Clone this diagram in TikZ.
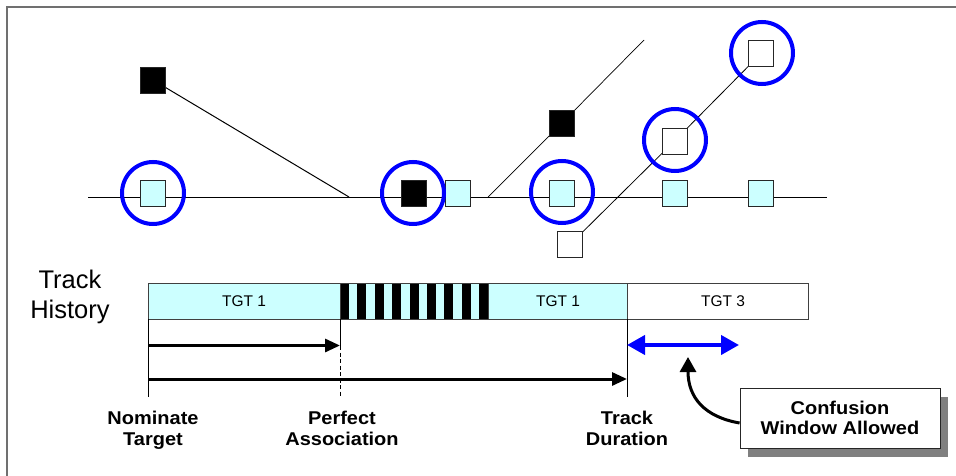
\documentclass[tikz,border=0pt]{standalone}
\usepackage{fontspec}
\setmainfont{Liberation Sans}
\newfontfamily\lblfont[FakeStretch=1.08]{Liberation Sans}
\usetikzlibrary{arrows.meta,shadows}
\definecolor{lcyan}{HTML}{CCFFFF}
\definecolor{framegray}{HTML}{707070}
\pgfdeclarelayer{bg}
\pgfsetlayers{bg,main}
\begin{document}
\begin{tikzpicture}[x=1pt,y=-1pt,
  sq/.style={rectangle, draw=black!85, line width=0.8pt, minimum width=25pt, minimum height=26pt, inner sep=0pt},
  cy/.style={sq, fill=lcyan},
  bk/.style={sq, fill=black},
  wh/.style={sq, fill=white},
  ring/.style={circle, draw=blue, line width=4pt, minimum size=62pt, inner sep=0pt},
  trackline/.style={line width=1pt, black},
  segline/.style={draw=black!75, line width=0.8pt},
  segtext/.style={anchor=base, inner sep=0pt, font=\fontsize{15.5}{18}\selectfont},
  lbl/.style={align=center, inner sep=0pt, font=\lblfont\bfseries\fontsize{18.5}{20.5}\selectfont},
  tickline/.style={line width=0.8pt, black},
  bararrow/.style={line width=3pt, -{Triangle[length=15pt,width=13pt]}},
]
\useasboundingbox (0,0) rectangle (956,476);
\draw[framegray, line width=1.5pt] (7,476) -- (7,7) -- (956,7);

% squares
\node[cy] (c1) at (153,193.5) {};
\node[bk] (b2) at (413.5,193.5) {};
\node[cy] (c2) at (457.5,193.5) {};
\node[cy] (c3) at (561.5,193.5) {};
\node[cy] (c4) at (674.5,193.5) {};
\node[cy] (c5) at (761,193.5) {};
\node[bk] (b1) at (153,80) {};
\node[bk] (b3) at (561.5,123.5) {};
\node[wh] (w1) at (570,244.5) {};
\node[wh] (w2) at (674.5,141) {};
\node[wh] (w3) at (761,53.5) {};

\coordinate (lstart) at (88,197);
\coordinate (lend) at (827,197);
\coordinate (j1) at (349,197);
\coordinate (j2) at (488,197);
\coordinate (j2end) at (644,40);

\begin{pgfonlayer}{bg}
\draw[trackline] (lstart) -- (lend);
\draw[trackline] (b1.center) -- (j1);
\draw[trackline, line width=0.7pt] (j2) -- (b3.center) -- (j2end);
\draw[trackline, line width=0.8pt] (w1.center) -- (w2.center) -- (w3.center);
\end{pgfonlayer}

% rings
\node[ring] (r1) at (153,193) {};
\node[ring] (r2) at (413,193) {};
\node[ring] (r3) at (562,192) {};
\node[ring] (r4) at (675,140) {};
\node[ring] (r5) at (762,53) {};

% track history bar
\fill[lcyan] (148,283) rectangle (627,319);
\foreach \k in {0,...,8} {
  \fill[black] (340+17.375*\k,283) rectangle +(9,36);
}
\fill[white] (627,283) rectangle (808,319);
\draw[segline] (148,283) rectangle (808,319);
\draw[segline] (340,283) -- (340,319);
\draw[segline] (488,283) -- (488,319);
\draw[segline] (627,283) -- (627,319);
\node[segtext] (t1) at (244,306) {TGT 1};
\node[segtext] (t2) at (558,306) {TGT 1};
\node[segtext] (t3) at (723,306) {TGT 3};

\node[align=center, inner sep=0pt, font=\fontsize{25.5}{30}\selectfont] (th) at (70,297) {Track\\History};

% ticks
\coordinate (n0) at (148,319);
\coordinate (n0b) at (148,397);
\coordinate (p0) at (340,319);
\coordinate (p1) at (340,346);
\coordinate (p0b) at (340,397);
\coordinate (d0) at (627,319);
\coordinate (d0b) at (627,397);
\draw[tickline] (n0) -- (n0b);
\draw[tickline] (p0) -- (p1);
\draw[tickline, dash pattern=on 4pt off 2.5pt] (p1) -- (p0b);
\draw[tickline] (d0) -- (d0b);

% arrows
\coordinate (a1s) at (148,345.5);
\coordinate (a1e) at (340,345.5);
\coordinate (a2s) at (148,379);
\coordinate (a2e) at (627,379);
\draw[bararrow] (a1s) -- (a1e);
\draw[bararrow] (a2s) -- (a2e);
\coordinate (cws) at (627,345);
\coordinate (cwe) at (739,345);
\draw[blue, line width=4pt, {Triangle[length=18pt,width=19pt]}-{Triangle[length=18pt,width=19pt]}] (cws) -- (cwe);

% labels
\node[lbl] (nom) at (153,430.5) {Nominate\\Target};
\node[lbl] (perf) at (342,428.5) {Perfect\\Association};
\node[lbl] (dur) at (627,428.5) {Track\\Duration};

% confusion box
\node[lbl, rectangle, draw=black!85, line width=0.8pt, fill=white, minimum width=200pt, minimum height=60pt,
  drop shadow={shadow xshift=8pt, shadow yshift=-9pt, fill=black!50, opacity=1}] (cw) at (840,418) {Confusion\\Window Allowed};
\coordinate (cwtip) at (688,357);
\draw[line width=3pt, -{Triangle[length=15pt,width=16pt]}] ([yshift=-5pt]cw.west) .. controls (705,417) and (688,398) .. (cwtip);
\end{tikzpicture}
\end{document}
